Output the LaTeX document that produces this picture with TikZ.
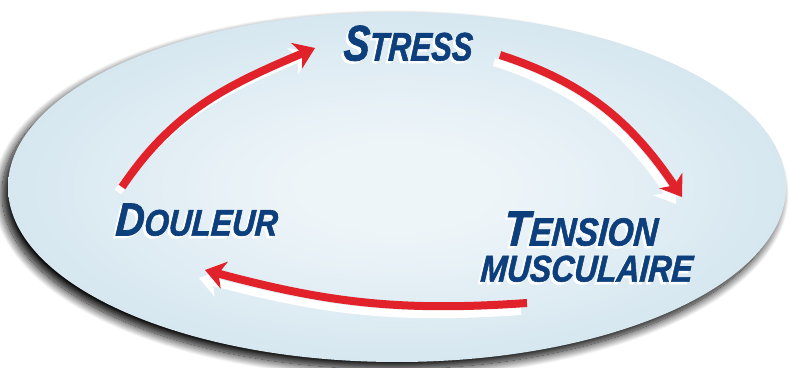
\documentclass[tikz,border=0pt]{standalone}
\usepackage{fontspec}
\usepackage{graphicx}
\usetikzlibrary{arrows.meta,shadows.blur}

\newfontfamily\brushfont{Liberation Sans}[BoldItalicFeatures={FakeBold=1.6, FakeSlant=0.08}]

\definecolor{ellin}{HTML}{EEF5F9}
\definecolor{ellout}{HTML}{B7D5E4}
\definecolor{cyclered}{HTML}{E2222A}
\definecolor{navy}{HTML}{0C3F7B}

% soft light-blue fill, brightest in the middle
\pgfdeclareradialshading{ellshade}{\pgfpoint{0bp}{0bp}}{%
  color(0bp)=(ellin); color(6bp)=(ellin); color(50bp)=(ellout); color(72bp)=(ellout)}

% word with an enlarged first capital
\newcommand\capword[2]{{\fontsize{34pt}{34pt}\selectfont #1}{\fontsize{27pt}{27pt}\selectfont #2}}
% navy word over a white copy shifted down and to the left
\newcommand\shadedword[1]{%
  \makebox[0pt][l]{\hspace*{-2.5pt}\raisebox{-2.5pt}{\textcolor{white}{#1}}}%
  \textcolor{navy}{#1}}

\tikzset{
  wordtext/.style={inner sep=0pt, font=\brushfont\bfseries\itshape},
  cyclehead/.style={-{Stealth[length=20pt,width=28pt,inset=6pt,line width=1pt]}},
  cyclearrow/.style={cyclehead, draw=cyclered, line width=8pt},
  arrowshade/.style={cyclehead, draw=white, line width=8pt},
}

\begin{document}
\begin{tikzpicture}[x=1pt,y=1pt]
  \useasboundingbox (0,0) rectangle (790,367);

  % background ellipse with a dark drop shadow
  \coordinate (ctr) at (397,180);
  \path[shading=ellshade,
        blur shadow={shadow xshift=-6pt, shadow yshift=-7pt,
                     shadow blur radius=9pt, shadow blur steps=20,
                     shadow opacity=100}]
    (ctr) ellipse [x radius=389pt, y radius=175pt];

  % arrow end points
  \coordinate (a1s) at (122,180);
  \coordinate (a1e) at (315,319);
  \coordinate (a2s) at (500,312);
  \coordinate (a2e) at (682,170);
  \coordinate (a3s) at (527,64);
  \coordinate (a3e) at (205,97);

  % white arrow shadows
  \draw[arrowshade, transform canvas={shift={(-4pt,-5pt)}}] (a1s) to[out=56,in=203] (a1e);
  \draw[arrowshade, transform canvas={shift={(-6pt,-7pt)}}] (a2s) to[out=-18,in=124] (a2e);
  \draw[arrowshade, transform canvas={shift={(-6pt,-8pt)}}] (a3s) to[out=184,in=-15] (a3e);

  % red arrows of the cycle
  \draw[cyclearrow] (a1s) to[out=56,in=203] (a1e);
  \draw[cyclearrow] (a2s) to[out=-18,in=124] (a2e);
  \draw[cyclearrow] (a3s) to[out=184,in=-15] (a3e);

  % labels
  \node[wordtext] (stress)  at (407.5,322.5)
    {\shadedword{\resizebox{129pt}{35pt}{\capword{S}{TRESS}}}};
  \node[wordtext] (douleur) at (196,146)
    {\shadedword{\resizebox{162pt}{32pt}{\capword{D}{OULEUR}}}};
  \node[wordtext] (tension) at (580,137)
    {\shadedword{\resizebox{154pt}{34pt}{\capword{T}{ENSION}}}};
  \node[wordtext] (musc)    at (586,97)
    {\shadedword{\resizebox{212pt}{26pt}{\fontsize{27pt}{27pt}\selectfont MUSCULAIRE}}};
\end{tikzpicture}
\end{document}
